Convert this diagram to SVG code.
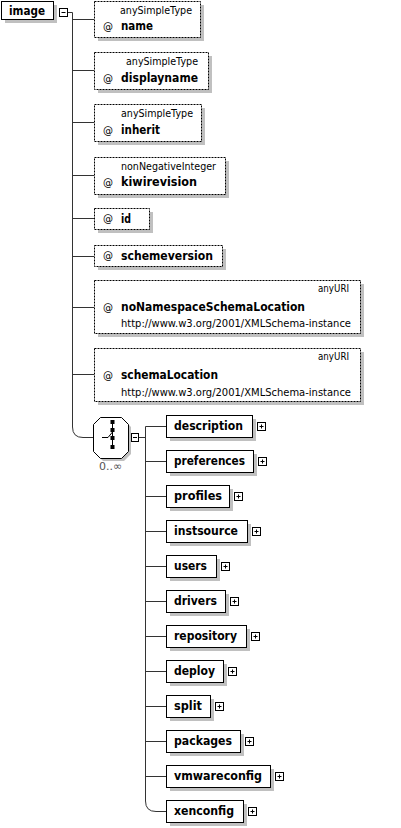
<svg xmlns="http://www.w3.org/2000/svg" width="401" height="828" viewBox="0 0 401 828">
<style>
.conn{stroke:#333;stroke-width:1;fill:none}
.box{fill:#fff;stroke:#000;stroke-width:1}
.attr{fill:#fff;stroke:#000;stroke-width:1;stroke-dasharray:2,1}
.sh{fill:#c0c0c0}
.nm{font-family:"DejaVu Sans",sans-serif;font-weight:bold;font-size:12px;fill:#000}
.ty{font-family:"DejaVu Sans",sans-serif;font-size:10px;fill:#000}
.at{font-family:"DejaVu Sans",sans-serif;font-size:10px;fill:#000}
.pm{fill:#fff;stroke:#000;stroke-width:1}
.pl{stroke:#000;stroke-width:1}
</style>
<rect width="401" height="828" fill="#fff"/>
<g id="connectors">
<path class="conn" d="M67.5,12.5H72.5V427Q72.5,437.5 83,437.5H93"/>
<path class="conn" d="M72.5,19.5H94M72.5,70.5H94M72.5,122.5H94M72.5,175.5H94M72.5,218.5H94M72.5,256.5H94M72.5,307.5H94M72.5,374.5H94"/>
<path class="conn" d="M138.5,437.5H145.5M145.5,426.5V801Q145.5,811.5 156,811.5H166"/>
<path class="conn" d="M145.5,426.5H166M145.5,461.5H166M145.5,496.5H166M145.5,531.5H166M145.5,566.5H166M145.5,601.5H166M145.5,636.5H166M145.5,671.5H166M145.5,706.5H166M145.5,741.5H166M145.5,776.5H166"/>
</g>
<g id="image">
<rect class="sh" x="5" y="5" width="52" height="18"/>
<rect class="box" x="1.5" y="1.5" width="52" height="18"/>
<text class="nm" x="9" y="15" textLength="36" lengthAdjust="spacingAndGlyphs">image</text>
<rect class="pm" x="59.5" y="8.5" width="8" height="8"/>
<path class="pl" d="M61.5,12.5H65.5"/>
</g>
<g id="attr-name">
<rect class="sh" x="98" y="5" width="106" height="36"/>
<rect class="attr" x="94.5" y="1.5" width="106" height="36"/>
<text class="ty" x="192" y="14" text-anchor="end" textLength="72" lengthAdjust="spacingAndGlyphs">anySimpleType</text>
<text class="at" x="103" y="30">@</text>
<text class="nm" x="121" y="30" textLength="32" lengthAdjust="spacingAndGlyphs">name</text>
</g>
<g id="attr-displayname">
<rect class="sh" x="98" y="56" width="114" height="37"/>
<rect class="attr" x="94.5" y="52.5" width="114" height="37"/>
<text class="ty" x="198" y="65" text-anchor="end" textLength="72" lengthAdjust="spacingAndGlyphs">anySimpleType</text>
<text class="at" x="103" y="82">@</text>
<text class="nm" x="121" y="82" textLength="77" lengthAdjust="spacingAndGlyphs">displayname</text>
</g>
<g id="attr-inherit">
<rect class="sh" x="98" y="108" width="107" height="37"/>
<rect class="attr" x="94.5" y="104.5" width="107" height="37"/>
<text class="ty" x="193" y="117" text-anchor="end" textLength="72" lengthAdjust="spacingAndGlyphs">anySimpleType</text>
<text class="at" x="103" y="134">@</text>
<text class="nm" x="121" y="134" textLength="39" lengthAdjust="spacingAndGlyphs">inherit</text>
</g>
<g id="attr-kiwirevision">
<rect class="sh" x="98" y="161" width="131" height="37"/>
<rect class="attr" x="94.5" y="157.5" width="131" height="37"/>
<text class="ty" x="216" y="170" text-anchor="end" textLength="95" lengthAdjust="spacingAndGlyphs">nonNegativeInteger</text>
<text class="at" x="103" y="186">@</text>
<text class="nm" x="121" y="186" textLength="76" lengthAdjust="spacingAndGlyphs">kiwirevision</text>
</g>
<g id="attr-id">
<rect class="sh" x="98" y="212" width="55" height="21"/>
<rect class="attr" x="94.5" y="208.5" width="55" height="21"/>
<text class="at" x="103" y="222">@</text>
<text class="nm" x="121" y="223" textLength="10" lengthAdjust="spacingAndGlyphs">id</text>
</g>
<g id="attr-schemeversion">
<rect class="sh" x="98" y="249" width="128" height="21"/>
<rect class="attr" x="94.5" y="245.5" width="128" height="21"/>
<text class="at" x="103" y="259">@</text>
<text class="nm" x="121" y="260" textLength="92" lengthAdjust="spacingAndGlyphs">schemeversion</text>
</g>
<g id="attr-noNamespaceSchemaLocation">
<rect class="sh" x="98" y="284" width="266" height="53"/>
<rect class="attr" x="94.5" y="280.5" width="266" height="53"/>
<text class="ty" x="349" y="292" text-anchor="end" textLength="31" lengthAdjust="spacingAndGlyphs">anyURI</text>
<text class="at" x="103" y="311">@</text>
<text class="nm" x="121" y="311" textLength="184" lengthAdjust="spacingAndGlyphs">noNamespaceSchemaLocation</text>
<text class="ty" x="121" y="327" textLength="230" lengthAdjust="spacingAndGlyphs">http://www.w3.org/2001/XMLSchema-instance</text>
</g>
<g id="attr-schemaLocation">
<rect class="sh" x="98" y="352" width="266" height="53"/>
<rect class="attr" x="94.5" y="348.5" width="266" height="53"/>
<text class="ty" x="349" y="360" text-anchor="end" textLength="31" lengthAdjust="spacingAndGlyphs">anyURI</text>
<text class="at" x="103" y="379">@</text>
<text class="nm" x="121" y="379" textLength="97" lengthAdjust="spacingAndGlyphs">schemaLocation</text>
<text class="ty" x="121" y="396" textLength="230" lengthAdjust="spacingAndGlyphs">http://www.w3.org/2001/XMLSchema-instance</text>
</g>
<g id="choice">
<polygon class="sh" points="103,420 124,420 131,427 131,454 124,461 103,461 96,454 96,427"/>
<polygon class="box" points="100.5,417.5 121.5,417.5 128.5,424.5 128.5,451.5 121.5,458.5 100.5,458.5 93.5,451.5 93.5,424.5"/>
<path stroke="#000" stroke-width="1" fill="none" d="M112.5,420V449M102,437.5H108L112.5,432"/>
<rect x="110.5" y="420" width="4" height="4" fill="#000"/>
<rect x="110.5" y="428" width="4" height="4" fill="#000"/>
<rect x="110.5" y="436" width="4" height="4" fill="#000"/>
<rect x="110.5" y="445" width="4" height="4" fill="#000"/>
<text x="110.5" y="470" text-anchor="middle" font-family="DejaVu Sans,sans-serif" font-size="11" fill="#555">0..∞</text>
<rect class="pm" x="131.5" y="433.5" width="7" height="8"/>
<path class="pl" d="M133,437.5H137"/>
</g>
<g id="el-description">
<rect class="sh" x="170" y="419" width="86" height="22"/>
<rect class="box" x="166.5" y="415.5" width="86" height="22"/>
<text class="nm" x="174" y="430" textLength="69" lengthAdjust="spacingAndGlyphs">description</text>
<rect class="pm" x="257.5" y="422.5" width="8" height="8"/><path class="pl" d="M259.5,426.5H263.5M261.5,424.5V428.5"/>
</g>
<g id="el-preferences">
<rect class="sh" x="170" y="454" width="87" height="22"/>
<rect class="box" x="166.5" y="450.5" width="87" height="22"/>
<text class="nm" x="174" y="465" textLength="71" lengthAdjust="spacingAndGlyphs">preferences</text>
<rect class="pm" x="258.5" y="457.5" width="8" height="8"/><path class="pl" d="M260.5,461.5H264.5M262.5,459.5V463.5"/>
</g>
<g id="el-profiles">
<rect class="sh" x="170" y="489" width="63" height="22"/>
<rect class="box" x="166.5" y="485.5" width="63" height="22"/>
<text class="nm" x="174" y="500" textLength="48" lengthAdjust="spacingAndGlyphs">profiles</text>
<rect class="pm" x="234.5" y="492.5" width="8" height="8"/><path class="pl" d="M236.5,496.5H240.5M238.5,494.5V498.5"/>
</g>
<g id="el-instsource">
<rect class="sh" x="170" y="524" width="81" height="22"/>
<rect class="box" x="166.5" y="520.5" width="81" height="22"/>
<text class="nm" x="174" y="535" textLength="64" lengthAdjust="spacingAndGlyphs">instsource</text>
<rect class="pm" x="252.5" y="527.5" width="8" height="8"/><path class="pl" d="M254.5,531.5H258.5M256.5,529.5V533.5"/>
</g>
<g id="el-users">
<rect class="sh" x="170" y="559" width="50" height="22"/>
<rect class="box" x="166.5" y="555.5" width="50" height="22"/>
<text class="nm" x="174" y="570" textLength="33" lengthAdjust="spacingAndGlyphs">users</text>
<rect class="pm" x="221.5" y="562.5" width="8" height="8"/><path class="pl" d="M223.5,566.5H227.5M225.5,564.5V568.5"/>
</g>
<g id="el-drivers">
<rect class="sh" x="170" y="594" width="59" height="22"/>
<rect class="box" x="166.5" y="590.5" width="59" height="22"/>
<text class="nm" x="174" y="605" textLength="43" lengthAdjust="spacingAndGlyphs">drivers</text>
<rect class="pm" x="230.5" y="597.5" width="8" height="8"/><path class="pl" d="M232.5,601.5H236.5M234.5,599.5V603.5"/>
</g>
<g id="el-repository">
<rect class="sh" x="170" y="629" width="80" height="22"/>
<rect class="box" x="166.5" y="625.5" width="80" height="22"/>
<text class="nm" x="174" y="640" textLength="63" lengthAdjust="spacingAndGlyphs">repository</text>
<rect class="pm" x="251.5" y="632.5" width="8" height="8"/><path class="pl" d="M253.5,636.5H257.5M255.5,634.5V638.5"/>
</g>
<g id="el-deploy">
<rect class="sh" x="170" y="664" width="57" height="22"/>
<rect class="box" x="166.5" y="660.5" width="57" height="22"/>
<text class="nm" x="174" y="675" textLength="41" lengthAdjust="spacingAndGlyphs">deploy</text>
<rect class="pm" x="228.5" y="667.5" width="8" height="8"/><path class="pl" d="M230.5,671.5H234.5M232.5,669.5V673.5"/>
</g>
<g id="el-split">
<rect class="sh" x="170" y="699" width="44" height="22"/>
<rect class="box" x="166.5" y="695.5" width="44" height="22"/>
<text class="nm" x="174" y="710" textLength="28" lengthAdjust="spacingAndGlyphs">split</text>
<rect class="pm" x="215.5" y="702.5" width="8" height="8"/><path class="pl" d="M217.5,706.5H221.5M219.5,704.5V708.5"/>
</g>
<g id="el-packages">
<rect class="sh" x="170" y="734" width="74" height="22"/>
<rect class="box" x="166.5" y="730.5" width="74" height="22"/>
<text class="nm" x="174" y="745" textLength="58" lengthAdjust="spacingAndGlyphs">packages</text>
<rect class="pm" x="245.5" y="737.5" width="8" height="8"/><path class="pl" d="M247.5,741.5H251.5M249.5,739.5V743.5"/>
</g>
<g id="el-vmwareconfig">
<rect class="sh" x="170" y="769" width="104" height="22"/>
<rect class="box" x="166.5" y="765.5" width="104" height="22"/>
<text class="nm" x="174" y="780" textLength="88" lengthAdjust="spacingAndGlyphs">vmwareconfig</text>
<rect class="pm" x="275.5" y="772.5" width="8" height="8"/><path class="pl" d="M277.5,776.5H281.5M279.5,774.5V778.5"/>
</g>
<g id="el-xenconfig">
<rect class="sh" x="170" y="804" width="77" height="22"/>
<rect class="box" x="166.5" y="800.5" width="77" height="22"/>
<text class="nm" x="174" y="815" textLength="60" lengthAdjust="spacingAndGlyphs">xenconfig</text>
<rect class="pm" x="248.5" y="807.5" width="8" height="8"/><path class="pl" d="M250.5,811.5H254.5M252.5,809.5V813.5"/>
</g>
</svg>
